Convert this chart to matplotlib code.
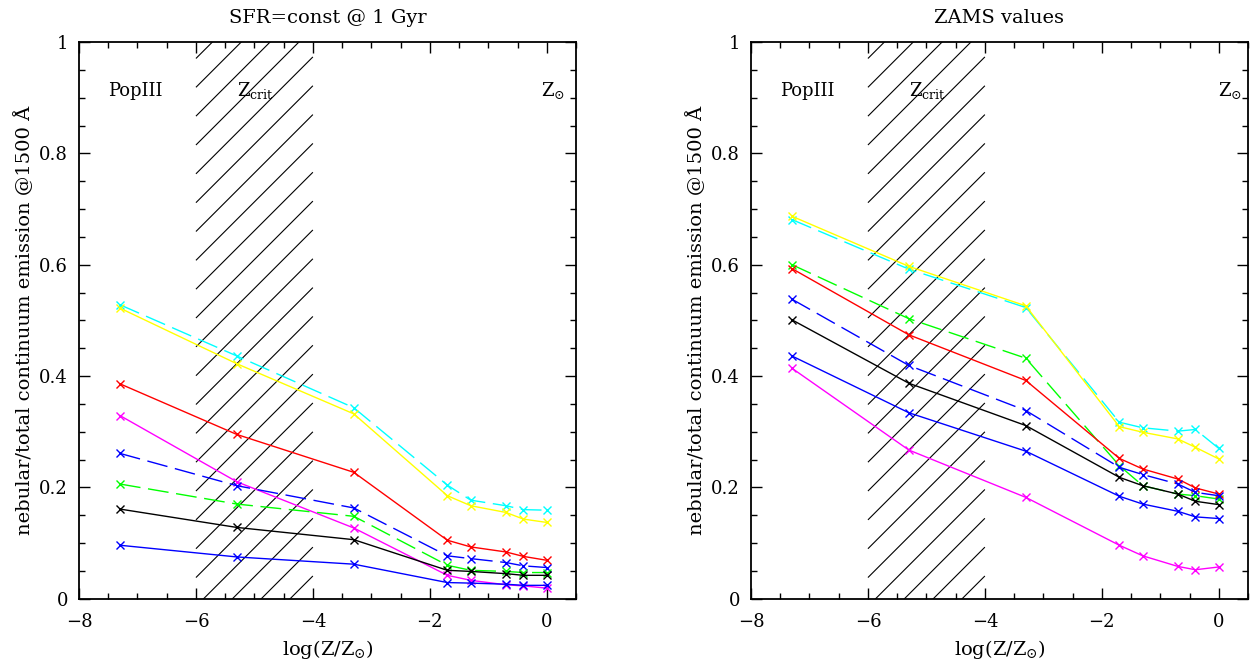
import matplotlib

matplotlib.use("Agg")
import matplotlib.pyplot as plt  # noqa: E402
from matplotlib.collections import LineCollection  # noqa: E402
from matplotlib.patches import Rectangle  # noqa: E402
from matplotlib.ticker import FuncFormatter, MultipleLocator  # noqa: E402

plt.rcParams["font.family"] = ["DejaVu Serif"]
plt.rcParams["mathtext.fontset"] = "dejavuserif"
plt.rcParams["mathtext.default"] = "regular"

# log(Z/Zsun) grid: PopIII placed at -7.3, then 1e-7, 1e-5, 4e-4, 1e-3, 4e-3, 8e-3, 0.02
logz = [-7.3, -5.3, -3.3, -1.7, -1.3, -0.7, -0.4, 0.0]

# left panel: SFR = const @ 1 Gyr
sfr_cyan = [0.528, 0.436, 0.343, 0.204, 0.177, 0.167, 0.160, 0.159]
sfr_yellow = [0.522, 0.422, 0.332, 0.185, 0.167, 0.155, 0.143, 0.137]
sfr_red = [0.386, 0.295, 0.227, 0.105, 0.093, 0.084, 0.076, 0.069]
sfr_magenta = [0.329, 0.210, 0.127, 0.042, 0.033, 0.025, 0.023, 0.019]
sfr_blue_dash = [0.261, 0.203, 0.163, 0.077, 0.072, 0.065, 0.059, 0.056]
sfr_green = [0.206, 0.170, 0.148, 0.060, 0.051, 0.049, 0.047, 0.047]
sfr_black = [0.161, 0.128, 0.106, 0.051, 0.049, 0.045, 0.042, 0.042]
sfr_blue = [0.096, 0.075, 0.062, 0.029, 0.028, 0.026, 0.024, 0.024]

# right panel: ZAMS values
zams_yellow = [0.687, 0.597, 0.526, 0.309, 0.299, 0.287, 0.272, 0.251]
zams_cyan = [0.681, 0.592, 0.523, 0.317, 0.307, 0.301, 0.304, 0.270]
zams_green = [0.600, 0.503, 0.432, 0.239, 0.203, 0.188, 0.185, 0.179]
zams_red = [0.593, 0.474, 0.392, 0.252, 0.233, 0.215, 0.199, 0.188]
zams_blue_dash = [0.538, 0.419, 0.338, 0.236, 0.223, 0.206, 0.191, 0.185]
zams_black = [0.501, 0.387, 0.311, 0.218, 0.203, 0.188, 0.175, 0.169]
zams_blue = [0.436, 0.334, 0.265, 0.184, 0.170, 0.157, 0.147, 0.144]
zams_magenta = [0.414, 0.267, 0.182, 0.096, 0.077, 0.058, 0.052, 0.057]

DASH = (0, (15, 5.5))

left_series = [
    (sfr_cyan, "#00ffff", DASH),
    (sfr_yellow, "#ffff00", "-"),
    (sfr_red, "#ff0000", "-"),
    (sfr_magenta, "#ff00ff", "-"),
    (sfr_blue_dash, "#0000ff", DASH),
    (sfr_green, "#00ff00", DASH),
    (sfr_black, "black", "-"),
    (sfr_blue, "#0000ff", "-"),
]
right_series = [
    (zams_cyan, "#00ffff", DASH),
    (zams_yellow, "#ffff00", "-"),
    (zams_green, "#00ff00", DASH),
    (zams_red, "#ff0000", "-"),
    (zams_blue_dash, "#0000ff", DASH),
    (zams_black, "black", "-"),
    (zams_blue, "#0000ff", "-"),
    (zams_magenta, "#ff00ff", "-"),
]


def fmt(v, _pos):
    return f"{v:g}".replace("-", "\u2212")


def hatch_band(ax, x0=-6.0, x1=-4.0, c0=0.038, step=0.0518, slope=0.105):
    # 45 degree hatching of the Z_crit band, clipped to the band
    segs = []
    for k in range(-6, 22):
        c = c0 + k * step
        segs.append([(x0, c), (x1, c + slope * (x1 - x0))])
    lc = LineCollection(segs, colors="black", linewidths=0.8)
    clip = Rectangle((x0, 0), x1 - x0, 1, transform=ax.transData)
    lc.set_clip_path(clip)
    ax.add_collection(lc)


def panel(ax, series, title, zsun_x):
    hatch_band(ax)
    for y, color, ls in series:
        ax.plot(logz, y, color=color, linestyle=ls, linewidth=1.0,
                marker="x", markersize=5.5, markeredgewidth=1.0)
    ax.set_xlim(-8, 0.5)
    ax.set_ylim(0, 1)
    ax.xaxis.set_major_locator(MultipleLocator(2))
    ax.xaxis.set_minor_locator(MultipleLocator(0.5))
    ax.yaxis.set_major_locator(MultipleLocator(0.2))
    ax.yaxis.set_minor_locator(MultipleLocator(0.05))
    ax.xaxis.set_major_formatter(FuncFormatter(fmt))
    ax.yaxis.set_major_formatter(FuncFormatter(fmt))
    ax.tick_params(which="both", direction="in", top=True, right=True,
                   labelsize=13, width=1.0)
    ax.tick_params(which="major", length=8)
    ax.tick_params(axis="x", which="major", pad=10)
    ax.tick_params(axis="y", which="major", pad=8)
    ax.tick_params(which="minor", length=4)
    for sp in ax.spines.values():
        sp.set_linewidth(1.3)
    ax.set_title(title, fontsize=14, pad=14)
    ax.set_xlabel(r"log(Z/Z$_{\odot}$)", fontsize=14, labelpad=5)
    ax.set_ylabel("nebular/total continuum emission @1500 \u00c5", fontsize=14)
    ax.yaxis.set_label_coords(-0.09, 0.5)
    ax.text(-7.5, 0.912, "PopIII", fontsize=13, va="center", ha="left")
    ax.text(-5.3, 0.912, r"Z$_{\rm crit}$", fontsize=13, va="center", ha="left")
    ax.text(zsun_x, 0.912, r"Z$_{\odot}$", fontsize=13, va="center", ha="center")


fig = plt.figure(figsize=(12.57, 6.62), dpi=100)
ax1 = fig.add_axes([79 / 1257, 63.3 / 662, 497 / 1257, 556.7 / 662])
ax2 = fig.add_axes([751 / 1257, 63.3 / 662, 497 / 1257, 556.7 / 662])
panel(ax1, left_series, "SFR=const @ 1 Gyr", 0.1)
panel(ax2, right_series, "ZAMS values", 0.19)
fig.savefig("out.png", dpi=100)
